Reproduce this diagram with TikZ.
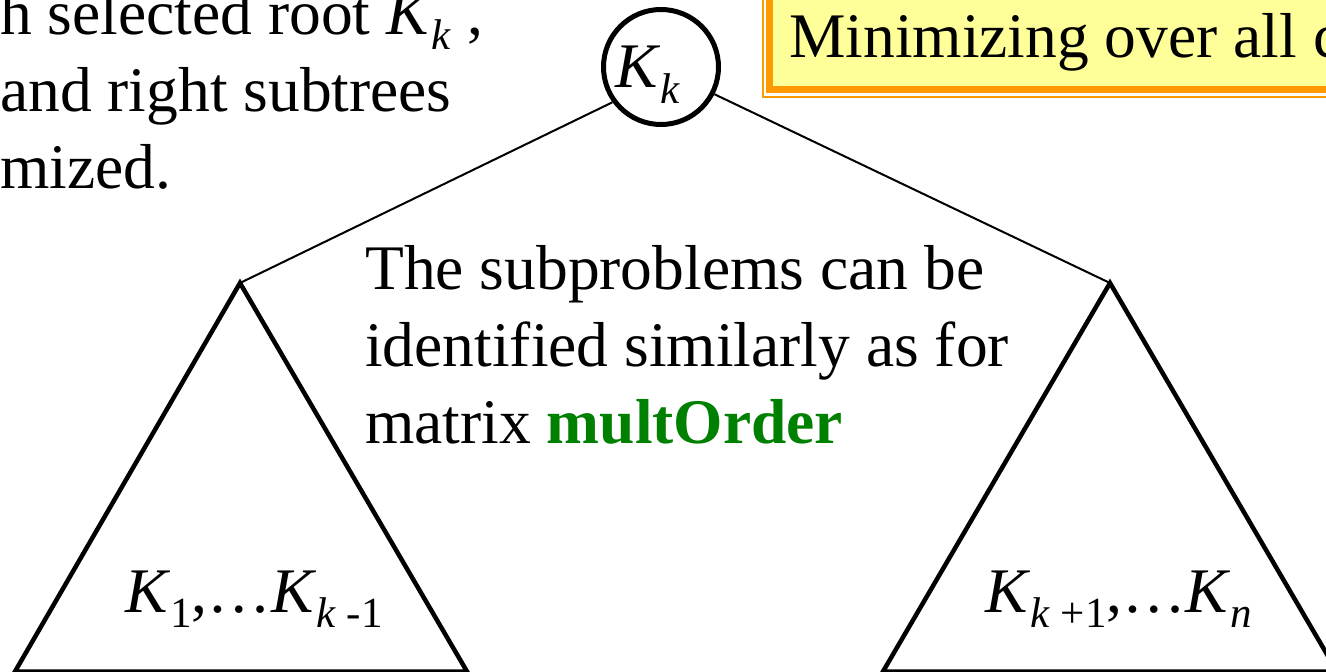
\documentclass[tikz,border=0pt]{standalone}
\usepackage{fontspec}
\setmainfont{Liberation Serif}
\usepackage{xcolor}
\usetikzlibrary{positioning}
\definecolor{noteYellow}{RGB}{255,255,153}
\definecolor{noteOrange}{RGB}{255,153,0}
\definecolor{orderGreen}{RGB}{0,128,0}
\newcommand\keysub[1]{\raisebox{-.24em}{\fontsize{43}{43}\selectfont #1}}

\begin{document}
\begin{tikzpicture}[x=1pt, y=-1pt,
  txt/.style={inner sep=0pt, anchor=base west, align=left,
              font=\fontsize{63.5}{77}\selectfont},
  root/.style={circle, draw, line width=5pt, minimum size=115pt,
               inner sep=0pt, text depth=0pt,
               font=\fontsize{63.5}{77}\selectfont},
  tri/.style={line width=4.5pt},
  edge/.style={line width=2pt}
]
  \useasboundingbox (0,0) rectangle (1326,672);
  \clip (0,0) rectangle (1326,672);
  \draw[noteOrange, line width=2pt] (763,-20) rectangle (1340,97);
  \filldraw[fill=noteYellow, draw=noteOrange, line width=7pt]
    (769.5,-20) rectangle (1340,89);
  \node[txt] (note) at (789,57) {Minimizing over all c};
  \node[txt] (intro) at (0,188)
    {h selected root \textit{K}\keysub{\textit{k}} ,\\
     and right subtrees\\
     mized.};
  \node[root] (root) at (661,67) {\textit{K}\keysub{\textit{k}}\rule{26pt}{0pt}};
  \coordinate (lapex) at (240,283);
  \coordinate (lleft) at (15,671.5);
  \coordinate (lright) at (467,671.5);
  \coordinate (rapex) at (1110,283);
  \coordinate (rleft) at (883,671.5);
  \coordinate (rright) at (1337,671.5);
  \draw[tri] (lapex) -- (lleft) -- (lright) -- cycle;
  \draw[tri] (rapex) -- (rleft) -- (rright) -- cycle;
  \draw[edge] (root.216) -- (lapex);
  \draw[edge] (root.-27) -- (rapex);
  \node[txt] (subtext) at (365,443)
    {The subproblems can be\\
     identified similarly as for\\
     matrix \textcolor{orderGreen}{\textbf{multOrder}}};
  \node[txt] (lkeys) at (125,612)
    {\textit{K}\keysub{1},\ldots\textit{K}\keysub{\textit{k} -1}};
  \node[txt] (rkeys) at (985,612)
    {\textit{K}\keysub{\textit{k} +1},\ldots\textit{K}\keysub{\textit{n}}};
\end{tikzpicture}
\end{document}
